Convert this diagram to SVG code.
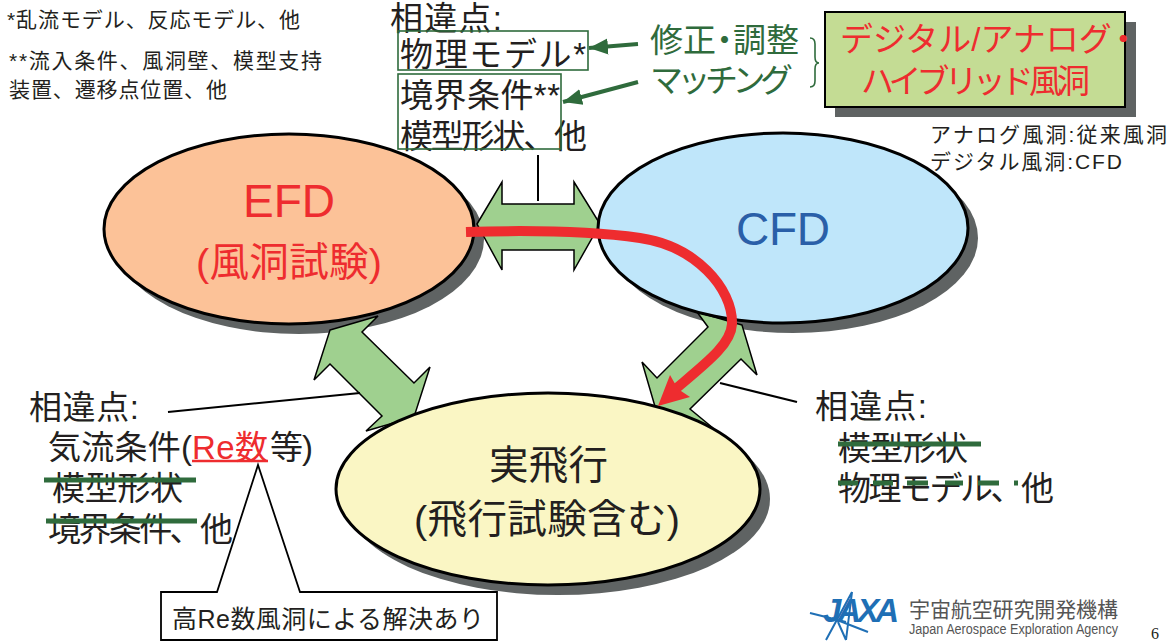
<svg xmlns="http://www.w3.org/2000/svg" width="1176" height="641" viewBox="0 0 1176 641">
<style>
text{font-family:"Liberation Sans","Noto Sans CJK JP",sans-serif;fill:#231f20}
.s{font-size:21px}.m{font-size:33px}.l{font-size:39.5px}
.r{fill:#ee2c2f}.g{fill:#2f6b3c}
.shadow{fill:#5f6363}
.el{stroke:#000;stroke-width:3}
.ar{fill:#9fd08f;stroke:#000;stroke-width:1.5;stroke-linejoin:miter}
.ln{stroke:#000;stroke-width:2;fill:none}
.st{stroke:#2f6b3c;stroke-width:5;fill:none}
.gb{fill:none;stroke:#2f6b3c;stroke-width:1.6}
</style>
<defs>
<marker id="gh" markerUnits="userSpaceOnUse" markerWidth="20" markerHeight="20" refX="19" refY="9" orient="auto"><path d="M0 1L19 9L0 17Z" fill="#2f6b3c"/></marker>
</defs>
<rect width="1176" height="641" fill="#fff"/>
<g id="shadows">
<ellipse class="shadow" cx="299" cy="239" rx="185" ry="95"/>
<ellipse class="shadow" cx="793" cy="238" rx="185" ry="95"/>
<ellipse class="shadow" cx="558" cy="499" rx="212" ry="96"/>
<rect class="shadow" x="835" y="22" width="301" height="95"/>
</g>
<g id="connectors">
<path class="ar" d="M477 224L502 182V204H574V182L600 224L574 270V250H502V270Z"/>
<path class="ar" d="M330 330L378 316L362 332L414 383L430 367L414 417L366 431L382 416L330 364L314 380Z"/>
<path class="ar" d="M742 325L697 312L708 327L657 378L642 362L656 410L713 428L690 409L741 359L757 375Z"/>
<line class="ln" x1="538" y1="155" x2="538" y2="201"/>
<line class="ln" x1="168" y1="412" x2="360" y2="393"/>
<line class="ln" x1="720" y1="383" x2="797" y2="402"/>
</g>
<g id="node-efd">
<ellipse class="el" cx="289" cy="229" rx="185" ry="95" fill="#fcc298"/>
<text class="r" x="243" y="217" font-size="46" textLength="92">EFD</text>
<text class="r l" x="196" y="276" textLength="186">(風洞試験)</text>
</g>
<g id="node-cfd">
<ellipse class="el" cx="783" cy="228" rx="185" ry="95" fill="#bfe6fa"/>
<text x="736" y="245" font-size="46" textLength="94" style="fill:#2a5fa8">CFD</text>
</g>
<g id="node-flight">
<ellipse class="el" cx="548" cy="489" rx="212" ry="96" fill="#faf6c4"/>
<text class="l" x="489" y="479" textLength="119">実飛行</text>
<text class="l" x="414" y="533" textLength="266">(飛行試験含む)</text>
</g>
<g id="red-curve">
<path d="M466 232C530 230 590 231 640 238C695 246 733 288 732 324C731 345 705 364 672 392" fill="none" stroke="#ee2c2f" stroke-width="10"/>
<path d="M658 406L670 375L678 389L690 397Z" fill="#ee2c2f"/>
</g>
<g id="node-hybrid">
<rect x="825" y="12" width="300" height="95" fill="#c4dc94" stroke="#000" stroke-width="2"/>
<text class="r m" x="840" y="51">デジタル/アナログ<tspan dx="-5">・</tspan></text>
<text class="r m" x="861" y="93" textLength="229">ハイブリッド風洞</text>
</g>
<g id="note-top">
<text class="m" x="390" y="30" textLength="112">相違点:</text>
<text class="m" x="400" y="66" textLength="186">物理モデル*</text>
<rect class="gb" x="398" y="31" width="190" height="39"/>
<text class="m" x="400" y="107" textLength="160">境界条件**</text>
<text class="m" x="400" y="148" textLength="187">模型形状、他</text>
<rect class="gb" x="398" y="74" width="163" height="75"/>
</g>
<g id="note-adjust">
<text class="m g" x="650" y="52">修正<tspan dx="-8">・</tspan><tspan dx="-8">調整</tspan></text>
<text class="m g" x="650" y="92" textLength="143">マッチング</text>
<line x1="638" y1="44" x2="589" y2="48" stroke="#2f6b3c" stroke-width="4" marker-end="url(#gh)"/>
<line x1="638" y1="82" x2="563" y2="102" stroke="#2f6b3c" stroke-width="4" marker-end="url(#gh)"/>
<path d="M810 38Q815 38 815 44V57Q815 63 819 63Q815 63 815 69V81Q815 87 810 87" fill="none" stroke="#2f6b3c" stroke-width="1.6"/>
</g>
<g id="note-defs">
<text class="s" x="7" y="27" textLength="293">*乱流モデル、反応モデル、他</text>
<text class="s" x="9" y="68" textLength="313">**流入条件、風洞壁、模型支持</text>
<text class="s" x="9" y="97" textLength="218">装置、遷移点位置、他</text>
<text class="s" x="930" y="142" textLength="237">アナログ風洞:従来風洞</text>
<text class="s" x="930" y="169" textLength="192">デジタル風洞:CFD</text>
</g>
<g id="note-left">
<text class="m" x="29" y="419" textLength="110">相違点:</text>
<text class="m" x="48" y="459" textLength="144">気流条件(</text>
<text class="m r" x="192" y="459" textLength="76">Re数</text>
<text class="m" x="270" y="459" textLength="43">等)</text>
<line x1="192" y1="461" x2="268" y2="461" stroke="#ee2c2f" stroke-width="2.5"/>
<text class="m" x="52" y="500" textLength="131">模型形状</text>
<text class="m" x="48" y="541" textLength="185">境界条件、他</text>
<line class="st" x1="44" y1="480" x2="196" y2="480"/>
<line class="st" x1="46" y1="521" x2="197" y2="521"/>
</g>
<g id="note-right">
<text class="m" x="815" y="418" textLength="112">相違点:</text>
<text class="m" x="838" y="460" textLength="130">模型形状</text>
<text class="m" x="838" y="500" textLength="216">物理モデル、他</text>
<line class="st" x1="838" y1="444" x2="981" y2="444"/>
<path class="st" d="M838 483H858M873 483H893M907 483H928M945 483H963M978 483H999M1014 483H1018"/>
</g>
<g id="callout">
<path d="M161 592H217L258 465L300 592H497V640H161Z" fill="none" stroke="#000" stroke-width="1.8"/>
<text x="172" y="628" font-size="25" textLength="312">高Re数風洞による解決あり</text>
</g>
<g id="logo">
<path d="M852 592L826 640M852 592L846 640M810 613L846 622M846 640L838 622M832 618L868 632" fill="none" stroke="#1f6fb5" stroke-width="2"/>
<text x="823" y="622" font-size="33" font-weight="700" font-style="italic" textLength="76" style="fill:#1f6fb5">JAXA</text>
<text x="909" y="617" font-size="21" textLength="209" style="fill:#555">宇宙航空研究開発機構</text>
<text x="909" y="634" font-size="14" textLength="209" lengthAdjust="spacingAndGlyphs" style="fill:#555">Japan Aerospace Exploration Agency</text>
</g>
<text x="1151" y="639" font-size="16" style="font-family:'Liberation Serif',serif">6</text>
</svg>
